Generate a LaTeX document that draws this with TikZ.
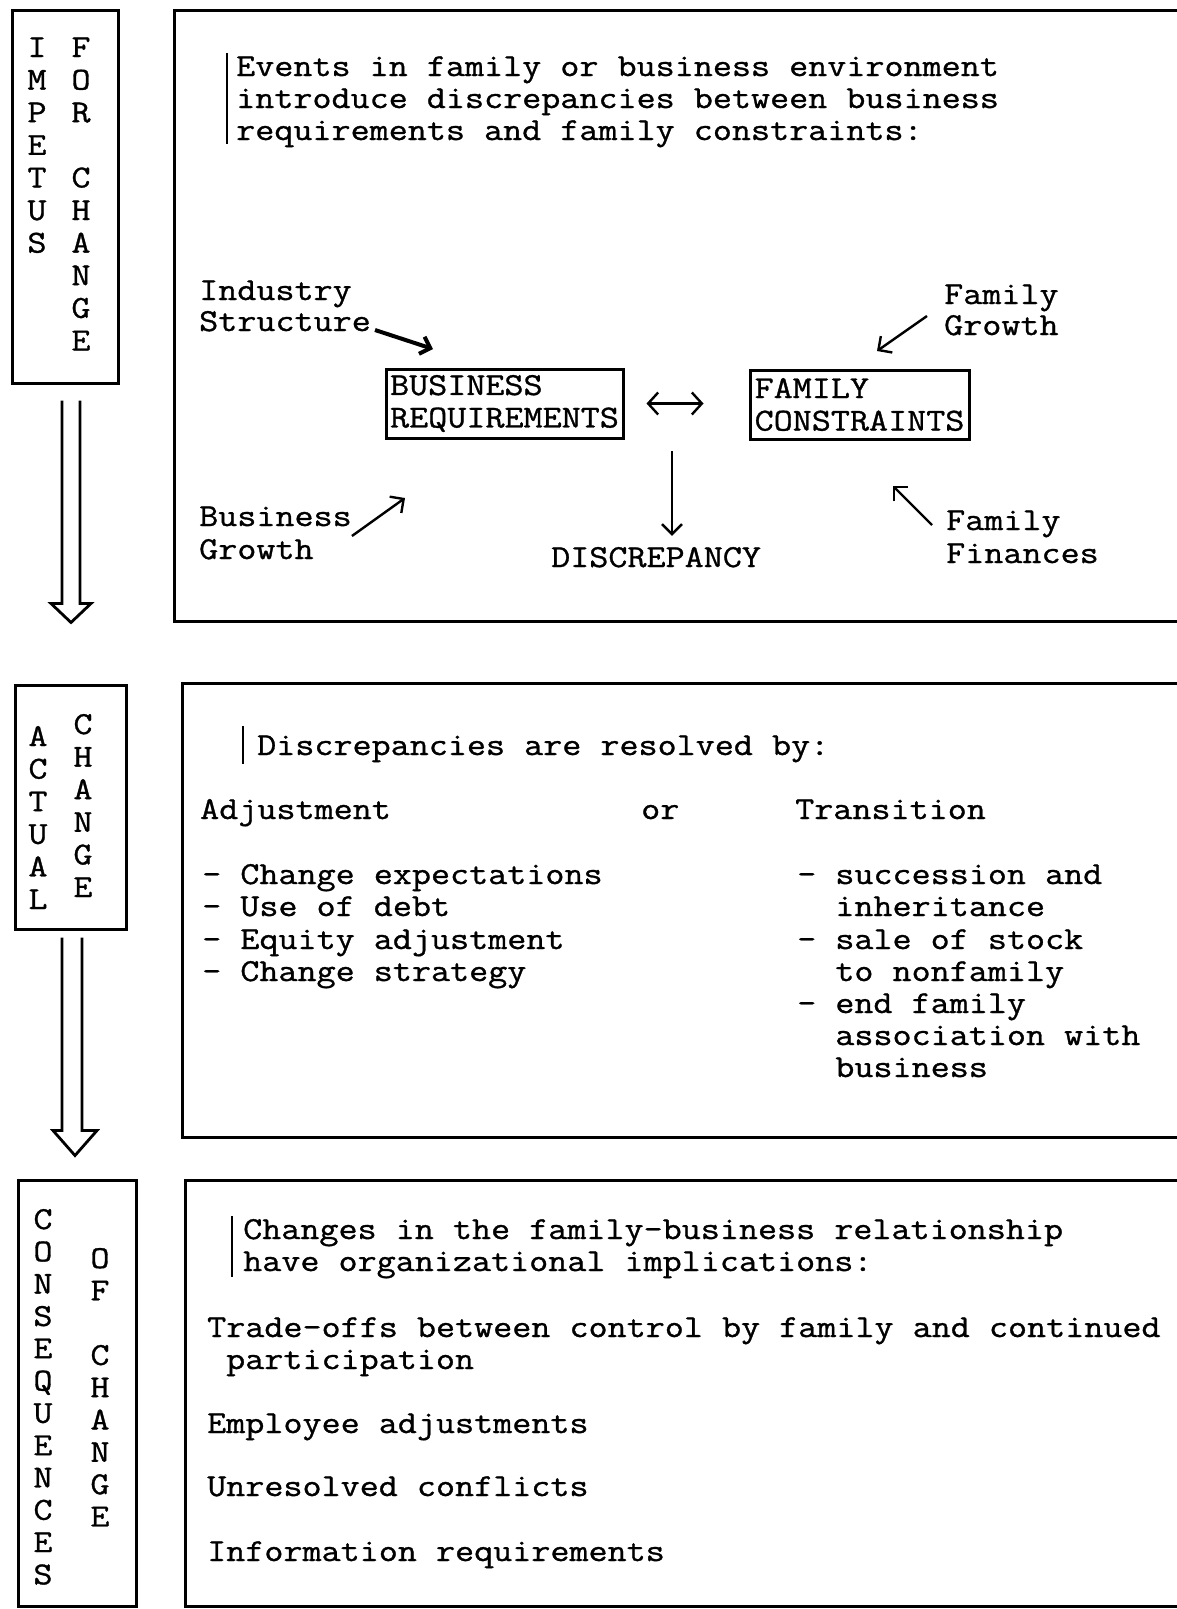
\documentclass[tikz,border=0pt]{standalone}
\usepackage{fontspec}
\setmonofont[FakeStretch=1.157, FakeBold=1]{Latin Modern Mono}
\usetikzlibrary{arrows.meta}

\begin{document}
\begin{tikzpicture}[x=1pt, y=-1pt,
  every node/.style={font=\ttfamily\fontsize{32}{32.5}\selectfont},
  tw/.style={inner sep=0pt, anchor=base west},
  col/.style={inner sep=0pt, anchor=base},
  frame/.style={draw, line width=3pt, inner sep=0pt},
  reqbox/.style={draw, line width=3pt, align=left, inner sep=2pt},
  pen/.style={line width=2.4pt, -{Straight Barb[length=10pt, width=20pt]}},
  fatpen/.style={line width=4pt, -{Straight Barb[length=9pt, width=18pt]}},
  hollow/.style={line width=2.8pt, line join=miter}]
\useasboundingbox (0,0) rectangle (1176,1609);

% left column
\node[frame, minimum width=106pt, minimum height=373pt] (imp) at (65,196.5) {};
\node[frame, minimum width=111pt, minimum height=244pt] (act) at (70.5,807) {};
\node[frame, minimum width=118pt, minimum height=426pt] (cons) at (77,1393) {};

\foreach \c [count=\i from 0] in {I,M,P,E,T,U,S}
  \node[col] (impetus\i) at (37,57+32.6*\i) {\c};
\foreach \c [count=\i from 0] in {F,O,R}
  \node[col] (for\i) at (81,57+32.6*\i) {\c};
\foreach \c [count=\i from 4] in {C,H,A,N,G,E}
  \node[col] (chgA\i) at (81,57+32.6*\i) {\c};

\foreach \c [count=\i from 0] in {A,C,T,U,A,L}
  \node[col] (actual\i) at (38,746+32.6*\i) {\c};
\foreach \c [count=\i from 0] in {C,H,A,N,G,E}
  \node[col] (chgB\i) at (83,734+32.6*\i) {\c};

\foreach \c [count=\i from 0] in {C,O,N,S,E,Q,U,E,N,C,E,S}
  \node[col] (conseq\i) at (43,1229+32.3*\i) {\c};
\foreach \c [count=\i from 0] in {O,F}
  \node[col] (of\i) at (100,1268+32.3*\i) {\c};
\foreach \c [count=\i from 3] in {C,H,A,N,G,E}
  \node[col] (chgC\i) at (100,1268+32.3*\i) {\c};

% hollow arrows
\draw[hollow] (imp.south) ++(-3,16) -- ++(0,203) -- ++(-11,0) -- ++(20,19)
  -- ++(20,-19) -- ++(-11,0) -- ++(0,-203);
\draw[hollow] (act.south) ++(-8.5,7) -- ++(0,193) -- ++(-9,0) -- ++(22,25)
  -- ++(22,-25) -- ++(-15,0) -- ++(0,-193);

% impetus for change
\node[frame, minimum width=1011pt, minimum height=611pt] (events) at (679.5,315.5) {};
\draw[line width=2.2pt] (227,53) -- (227,144);
\node[tw] (ev1) at (236,76) {Events in family or business environment};
\node[tw] (ev2) at (236,108) {introduce discrepancies between business};
\node[tw] (ev3) at (236,140) {requirements and family constraints:};

\node[tw] (indA) at (199,300) {Industry};
\node[tw] (indB) at (199,331) {Structure};
\node[tw] (famA) at (944,304) {Family};
\node[tw] (famB) at (944,335) {Growth};
\node[tw] (busA) at (199,526) {Business};
\node[tw] (busB) at (199,559) {Growth};
\node[tw] (finA) at (946,530) {Family};
\node[tw] (finB) at (946,563) {Finances};

\node[reqbox, minimum width=237pt, minimum height=69pt] (busreq) at (504.5,403.5) {BUSINESS\\REQUIREMENTS};
\node[reqbox, minimum width=219pt, minimum height=69pt] (famcon) at (859.5,404.5) {FAMILY\\CONSTRAINTS};
\node[tw] (disc) at (551,567) {DISCREPANCY};

\coordinate (indtip) at (433,349);
\coordinate (fgtip) at (877,351);
\coordinate (bgtip) at (405,498);
\coordinate (fftip) at (893,486);
\coordinate (split) at (672,451);

\draw[fatpen] (indB.base east) ++(4,-1) -- (indtip);
\draw[pen] (famB.base west) ++(-17,-19) -- (fgtip);
\draw[pen] (busA.base east) ++(0,10) -- (bgtip);
\draw[pen] (finA.base west) ++(-14,-5) -- (fftip);
\draw[pen, {Straight Barb[length=10pt, width=22pt]}-{Straight Barb[length=10pt, width=22pt]},
  shorten <=22pt, shorten >=45pt] (busreq.east) -- (busreq.east -| famcon.west);
\draw[pen, shorten >=11pt] (split) -- (split |- disc.north);

% actual change
\node[frame, minimum width=1003pt, minimum height=454pt] (resolve) at (683.5,910) {};
\draw[line width=2.2pt] (243,726) -- (243,764);
\node[tw] (res) at (257,755) {Discrepancies are resolved by:};
\node[tw] (adj) at (200,819) {Adjustment};
\node[tw] (ornode) at (641,819) {or};
\node[tw] (tra) at (795,819) {Transition};

\node[tw] (adj1) at (202,884) {- Change expectations};
\node[tw] (adj2) at (202,916) {- Use of debt};
\node[tw] (adj3) at (202,949) {- Equity adjustment};
\node[tw] (adj4) at (202,981) {- Change strategy};

\node[tw] (tra1) at (797,884) {- succession and};
\node[tw] (tra2) at (797,916) {\phantom{- }inheritance};
\node[tw] (tra3) at (797,949) {- sale of stock};
\node[tw] (tra4) at (797,981) {\phantom{- }to nonfamily};
\node[tw] (tra5) at (797,1013) {- end family};
\node[tw] (tra6) at (797,1045) {\phantom{- }association with};
\node[tw] (tra7) at (797,1077) {\phantom{- }business};

% consequences of change
\node[frame, minimum width=1000pt, minimum height=426pt] (conseqbox) at (685,1393) {};
\draw[line width=2.2pt] (232,1216) -- (232,1277);
\node[tw] (chg1) at (243,1239) {Changes in the family-business relationship};
\node[tw] (chg2) at (243,1271) {have organizational implications:};
\node[tw] (trd1) at (207,1337) {Trade-offs between control by family and continued};
\node[tw] (trd2) at (226,1369) {participation};
\node[tw] (emp) at (207,1433) {Employee adjustments};
\node[tw] (unr) at (207,1496) {Unresolved conflicts};
\node[tw] (inf) at (207,1561) {Information requirements};
\end{tikzpicture}
\end{document}
